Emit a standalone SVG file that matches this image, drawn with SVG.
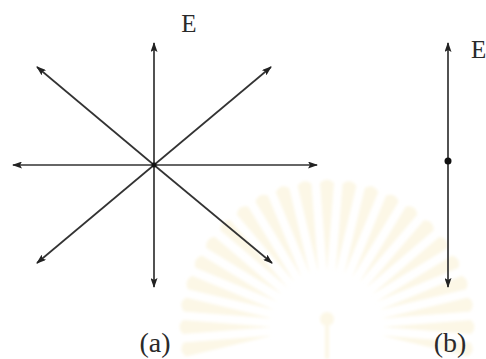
<svg xmlns="http://www.w3.org/2000/svg" xmlns:xlink="http://www.w3.org/1999/xlink" width="486" height="359" viewBox="0 0 486 359">
  <style>
    .ax { stroke: #333; stroke-width: 1.7; fill: none; marker-end: url(#ah); }
    .lbl { font-family: "Liberation Serif", "Times New Roman", serif; fill: #2a2a2a; }
    .ray { fill: #fcf7e6; }
  </style>
  <defs>
    <marker id="ah" viewBox="0 0 10 7" refX="9" refY="3.5" markerWidth="10" markerHeight="7" markerUnits="userSpaceOnUse" orient="auto">
      <path d="M0,0 L10,3.5 L0,7 L2,3.5 Z" fill="#222"/>
    </marker>
    <path id="ray" d="M55,0 L144,-7 Q151,0 144,7 Z"/>
    <filter id="soft"><feGaussianBlur stdDeviation="1.5"/></filter>
  </defs>
  <rect width="486" height="359" fill="#fff"/>
  <g id="watermark" class="ray" filter="url(#soft)">
    <use xlink:href="#ray" transform="translate(327,327) rotate(9)"/>
    <use xlink:href="#ray" transform="translate(327,327) rotate(0)"/>
    <use xlink:href="#ray" transform="translate(327,327) rotate(-9)"/>
    <use xlink:href="#ray" transform="translate(327,327) rotate(-18)"/>
    <use xlink:href="#ray" transform="translate(327,327) rotate(-27)"/>
    <use xlink:href="#ray" transform="translate(327,327) rotate(-36)"/>
    <use xlink:href="#ray" transform="translate(327,327) rotate(-45)"/>
    <use xlink:href="#ray" transform="translate(327,327) rotate(-54)"/>
    <use xlink:href="#ray" transform="translate(327,327) rotate(-63)"/>
    <use xlink:href="#ray" transform="translate(327,327) rotate(-72)"/>
    <use xlink:href="#ray" transform="translate(327,327) rotate(-81)"/>
    <use xlink:href="#ray" transform="translate(327,327) rotate(-90)"/>
    <use xlink:href="#ray" transform="translate(327,327) rotate(-99)"/>
    <use xlink:href="#ray" transform="translate(327,327) rotate(-108)"/>
    <use xlink:href="#ray" transform="translate(327,327) rotate(-117)"/>
    <use xlink:href="#ray" transform="translate(327,327) rotate(-126)"/>
    <use xlink:href="#ray" transform="translate(327,327) rotate(-135)"/>
    <use xlink:href="#ray" transform="translate(327,327) rotate(-144)"/>
    <use xlink:href="#ray" transform="translate(327,327) rotate(-153)"/>
    <use xlink:href="#ray" transform="translate(327,327) rotate(-162)"/>
    <use xlink:href="#ray" transform="translate(327,327) rotate(-171)"/>
    <use xlink:href="#ray" transform="translate(327,327) rotate(-180)"/>
    <use xlink:href="#ray" transform="translate(327,327) rotate(171)"/>
    <circle cx="327" cy="319" r="7"/>
    <rect x="325" y="326" width="4" height="33"/>
  </g>
  <g id="connectors">
    <line class="ax" x1="154" y1="165" x2="154" y2="43"/>
    <line class="ax" x1="154" y1="165" x2="154" y2="287"/>
    <line class="ax" x1="154" y1="165" x2="13" y2="165"/>
    <line class="ax" x1="154" y1="165" x2="317" y2="165"/>
    <line class="ax" x1="154" y1="165" x2="37" y2="67"/>
    <line class="ax" x1="154" y1="165" x2="271" y2="67"/>
    <line class="ax" x1="154" y1="165" x2="37" y2="263"/>
    <line class="ax" x1="154" y1="165" x2="272" y2="263"/>
    <line class="ax" x1="448" y1="161" x2="448" y2="43"/>
    <line class="ax" x1="448" y1="161" x2="448" y2="287"/>
  </g>
  <g id="node-a">
    <circle cx="154" cy="165" r="2.5" fill="#111"/>
    <text class="lbl" x="189" y="32" font-size="25" text-anchor="middle">E</text>
    <text class="lbl" x="155" y="352" font-size="28" text-anchor="middle">(a)</text>
  </g>
  <g id="node-b">
    <circle cx="448" cy="161" r="3.5" fill="#111"/>
    <text class="lbl" x="471" y="58" font-size="25">E</text>
    <text class="lbl" x="450" y="352" font-size="28" text-anchor="middle">(b)</text>
  </g>
</svg>
